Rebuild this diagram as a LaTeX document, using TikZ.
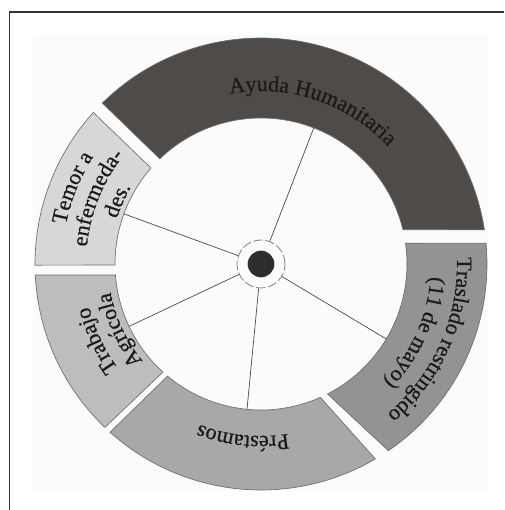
\documentclass[tikz,border=0pt]{standalone}
\usepackage{fontspec}
\setmainfont{Liberation Serif}
\usepackage{tikz}
\usetikzlibrary{decorations.text}

\definecolor{framecol}{HTML}{333333}
\definecolor{backcol}{HTML}{FBFBFB}
\definecolor{bandline}{HTML}{6E6E6E}
\definecolor{ayudacol}{HTML}{4E4B48}
\definecolor{temorcol}{HTML}{D7D7D7}
\definecolor{trabajocol}{HTML}{BDBDBD}
\definecolor{prestamocol}{HTML}{A8A8A8}
\definecolor{trasladocol}{HTML}{939393}
\definecolor{spokecol}{HTML}{444444}
\definecolor{textcol}{HTML}{1A1A1A}

\newcommand{\bandfont}{\addfontfeatures{FakeBold=0.6}\fontsize{16.5}{18}\selectfont\color{textcol}}

\begin{document}
\begin{tikzpicture}
      [ x = .75pt, y = .75pt
      , frame/.style =
        { draw = framecol, line width = .8pt }
      , band/.style =
        { draw = bandline, line width = .5pt }
      , spoke/.style =
        { draw = spokecol, line width = .5pt }
      , ring/.style =
        { circle, draw = gray, dash pattern = on 7pt off 2pt, line width = .6pt
        , minimum size = 36pt, inner sep = 0pt }
      , dot/.style =
        { circle, fill = ayudacol!60!black, minimum size = 20pt, inner sep = 0pt }
      , bandtext/.style =
        { decorate, decoration =
          { text along path, text align = center, text = {|\bandfont|#1} } }
      ]
      \useasboundingbox (-261,-246) rectangle (243,264);
      \fill [backcol] (-228,-226) rectangle (227,229);
      \draw [frame] (-251.5,-246) -- (-251.5,252) -- (243,252);

      % bands
      \draw [band,fill=ayudacol] (134.6:226) arc [start angle=134.6, end angle=8.7, radius=226]
        -- (13.6:146) arc [start angle=13.6, end angle=133.9, radius=146] -- cycle;
      \draw [band,fill=trasladocol] (5.3:226) arc [start angle=5.3, end angle=-55.7, radius=226]
        -- (-62.9:146) arc [start angle=-62.9, end angle=8.2, radius=146] -- cycle;
      \draw [band,fill=prestamocol] (-59.6:226) arc [start angle=-59.6, end angle=-131.9, radius=226]
        -- (-129.8:146) arc [start angle=-129.8, end angle=-66, radius=146] -- cycle;
      \draw [band,fill=trabajocol] (-133.7:226) arc [start angle=-133.7, end angle=-177.2, radius=226]
        -- (-175.7:146) arc [start angle=-175.7, end angle=-132.2, radius=146] -- cycle;
      \draw [band,fill=temorcol] (180.3:226) arc [start angle=180.3, end angle=137.9, radius=226]
        -- (138.9:146) arc [start angle=138.9, end angle=180.4, radius=146] -- cycle;

      % labels
      \path [bandtext={Ayuda Humanitaria}] (146.5:173) arc [start angle=146.5, end angle=-3.5, radius=173];
      \path [bandtext={Traslado restringido}] (46:196) arc [start angle=46, end angle=-94, radius=196];
      \path [bandtext={(11 de mayo)}] (46:170) arc [start angle=46, end angle=-94, radius=170];
      \path [bandtext={Préstamos}] (-26:172) arc [start angle=-26, end angle=-166, radius=172];
      \path [bandtext={Trabajo}] (265:177) arc [start angle=265, end angle=145, radius=177];
      \path [bandtext={Agrícola}] (265:153) arc [start angle=265, end angle=145, radius=153];
      \path [bandtext={Temor a}] (218:199) arc [start angle=218, end angle=98, radius=199];
      \path [bandtext={enfermeda-}] (218:175) arc [start angle=218, end angle=98, radius=175];
      \path [bandtext={des.}] (216:151) arc [start angle=216, end angle=96, radius=151];

      % hub and spokes
      \node [ring] (hub) at (0,0) {};
      \node [dot] (dot) at (hub) {};
      \coordinate (s1) at (68.8:146);
      \coordinate (s2) at (159.9:146);
      \coordinate (s3) at (205.3:146);
      \coordinate (s4) at (264.5:146);
      \coordinate (s5) at (-30.9:146);
      \draw [spoke] (hub) -- (s1);
      \draw [spoke] (hub) -- (s2);
      \draw [spoke] (hub) -- (s3);
      \draw [spoke] (hub) -- (s4);
      \draw [spoke] (hub) -- (s5);
    \end{tikzpicture}
\end{document}
